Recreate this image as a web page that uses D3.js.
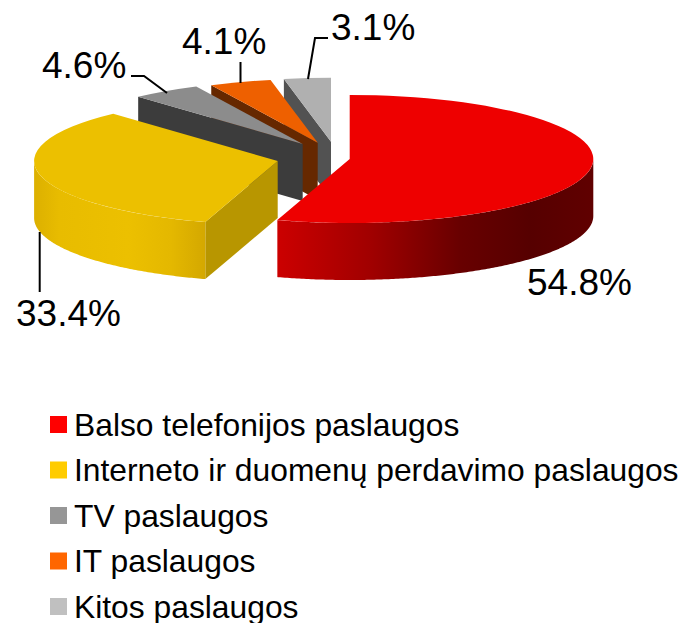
<!DOCTYPE html>
<html>
<head>
<meta charset="utf-8">
<script src="https://cdn.jsdelivr.net/npm/d3@7"></script>
<style>
  html, body { margin: 0; padding: 0; background: #fff; }
  svg { display: block; }
  text { font-family: "Liberation Sans", Arial, sans-serif; fill: #000; }
</style>
</head>
<body>
<svg id="chart" width="685" height="623"></svg>
<script>
const categories = [
  "Balso telefonijos paslaugos",
  "Interneto ir duomenų perdavimo paslaugos",
  "TV paslaugos",
  "IT paslaugos",
  "Kitos paslaugos"
];
const shares = [54.8, 33.4, 4.6, 4.1, 3.1];
const legendColors = ["#ff0000", "#ffcc00", "#969696", "#ff6600", "#c0c0c0"];
const topColors = ["#ee0000", "#ecc000", "#8c8c8c", "#ee6000", "#b0b0b0"];
const cutColors = ["#8a0000", "#b89600", "#3c3c3c", "#662800", "#525252"];

// each exploded slice has its own centre on the page
const centres = [[349.7, 159], [277.7, 161], [302.7, 144], [317.7, 142.7], [331, 141.7]];
const labelPos = [[527, 295], [16, 326], [42, 78], [182, 54], [331, 40]];
const leaders = [
  null,
  [[39.7, 232], [39.7, 292]],
  [[131, 76], [144, 76], [167, 93]],
  [[240.5, 62], [240.5, 83]],
  [[328, 38], [315, 38], [308, 79]]
];

const W = 685, H = 623;
const rx = 243.6, ry = 64, depth = 57;

const svg = d3.select("#chart");
const defs = svg.append("defs");

// shading of the curved rim, keyed by slice
const rimGradients = {
  0: { x1: 277, x2: 593, stops: [[0, "#cc0000"], [0.3, "#a00000"], [0.58, "#680000"], [0.8, "#560000"], [1, "#600000"]] },
  1: { x1: 34, x2: 205, stops: [[0, "#dcb000"], [0.15, "#e8bc00"], [0.55, "#ecc000"], [0.8, "#e4b800"], [1, "#d4a800"]] }
};
Object.entries(rimGradients).forEach(([i, g]) => {
  const grad = defs.append("linearGradient")
    .attr("id", `rim-${i}`)
    .attr("gradientUnits", "userSpaceOnUse")
    .attr("x1", g.x1).attr("x2", g.x2).attr("y1", 0).attr("y2", 0);
  grad.selectAll("stop").data(g.stops).join("stop")
    .attr("offset", d => d[0])
    .attr("stop-color", d => d[1]);
});

const pie = d3.pie().sort(null).value(d => d);
const slices = pie(shares).map((s, i) => ({ ...s, i }));
const arc = d3.arc().innerRadius(0).outerRadius(rx);

const rimX = a => rx * Math.sin(a);
const rimY = a => -ry * Math.cos(a);

// back slices first, red goes on top of everything
const order = [4, 3, 2, 1, 0];
order.forEach(i => {
  const s = slices[i];
  const [cx, cy] = centres[i];
  const g = svg.append("g").attr("transform", `translate(${cx},${cy})`);

  // cut face, only visible if the slice starts on the left half
  if (s.startAngle > Math.PI) {
    const a = s.startAngle;
    g.append("path")
      .attr("fill", cutColors[i])
      .attr("d", d3.line()([
        [rimX(a), rimY(a)], [0, 0], [0, depth], [rimX(a), rimY(a) + depth]
      ]) + "Z");
  }

  // curved rim, the part that faces the viewer
  const from = Math.max(s.startAngle, Math.PI / 2);
  const to = Math.min(s.endAngle, 3 * Math.PI / 2);
  if (to > from) {
    const angles = d3.range(from, to, 0.01).concat(to);
    g.append("path")
      .attr("fill", rimGradients[i] ? `url(#rim-${i})` : cutColors[i])
      .attr("transform", `translate(${-cx},${-cy})`)
      .attr("d", d3.area()
        .x(a => cx + rimX(a))
        .y0(a => cy + rimY(a))
        .y1(a => cy + rimY(a) + depth)(angles));
  }

  // top
  g.append("path")
    .attr("fill", topColors[i])
    .attr("transform", `scale(1,${ry / rx})`)
    .attr("d", arc(s));
});

// Leader lines
const leaderLine = d3.line();
svg.append("g").selectAll("path").data(leaders.filter(Boolean)).join("path")
  .attr("d", leaderLine)
  .attr("fill", "none")
  .attr("stroke", "#000")
  .attr("stroke-width", 2);

// Value labels
svg.append("g").selectAll("text").data(shares).join("text")
  .attr("x", (d, i) => labelPos[i][0])
  .attr("y", (d, i) => labelPos[i][1])
  .style("font-size", "37px")
  .text(d => d.toFixed(1) + "%");

// Legend
const legendY = d3.scalePoint().domain(categories).range([424.5, 606.5]);
const legend = svg.append("g");
legend.selectAll("rect").data(categories).join("rect")
  .attr("x", 50).attr("y", d => legendY(d) - 8.5)
  .attr("width", 17).attr("height", 17)
  .attr("fill", (d, i) => legendColors[i]);
legend.selectAll("text").data(categories).join("text")
  .attr("x", 74).attr("y", d => legendY(d) + 11)
  .style("font-size", "31.8px")
  .text(d => d);
</script>
</body>
</html>
